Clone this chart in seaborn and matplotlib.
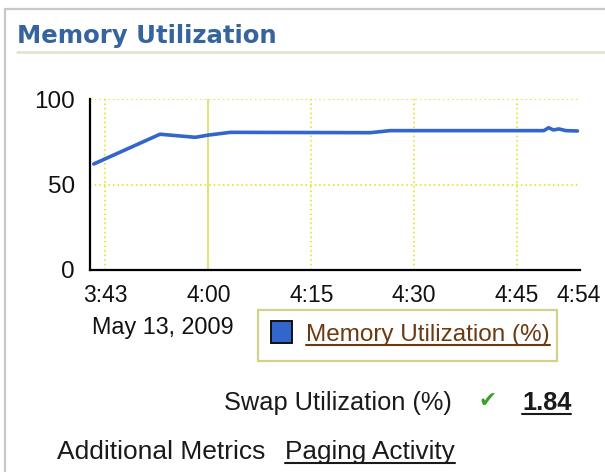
import matplotlib
matplotlib.use("Agg")
import matplotlib.pyplot as plt
from matplotlib.lines import Line2D
from matplotlib.patches import Rectangle
import seaborn as sns
import pandas as pd

# ---- data ----
# minutes after 3:00
minutes = [43.3, 52.95, 58.1, 60.0, 63.2, 83.6, 86.5, 108.9, 109.6, 110.3, 111.1, 112.1, 113.8]
memory_pct = [62.0, 79.4, 77.6, 78.9, 80.5, 80.3, 81.5, 81.5, 83.2, 81.9, 82.5, 81.5, 81.3]
tick_minutes = [45, 60, 75, 90, 105, 114]
tick_labels = ["3:43", "4:00", "4:15", "4:30", "4:45", "4:54"]
y_ticks = [0, 50, 100]
date_label = "May 13, 2009"
series_label = "Memory Utilization (%)"
title = "Memory Utilization"
swap_label = "Swap Utilization (%)"
swap_value = "1.84"
extra_label = "Additional Metrics"
extra_link = "Paging Activity"

W, H = 605, 472
sns.set_style("white")
plt.rcParams["font.family"] = ["Liberation Sans", "DejaVu Sans"]

fig = plt.figure(figsize=(W / 100, H / 100), dpi=100)


def fx(x):
    return x / W


def fy(y):
    return 1 - y / H


# axes placement (pixels)
L, R, T, B = 90, 579.5, 99, 270
ax = fig.add_axes([fx(L), fy(B), (R - L) / W, (B - T) / H])

df = pd.DataFrame({"t": minutes, "v": memory_pct})
sns.lineplot(data=df, x="t", y="v", ax=ax, color="#3366cc", linewidth=2.6, legend=False)

ax.set_xlim(42.75, 114.1)
ax.set_ylim(0, 100)
ax.set_xticks(tick_minutes)
ax.set_xticklabels(tick_labels)
ax.set_yticks(y_ticks)
ax.set_xlabel("")
ax.set_ylabel("")
ax.tick_params(axis="x", direction="in", length=3.5, width=1, color="#777777",
               labelsize=16.5, pad=10, labelcolor="#111111")
ax.tick_params(axis="y", length=0, labelsize=17.5, pad=11, labelcolor="#111111")
for s in ["top", "right"]:
    ax.spines[s].set_visible(False)
for s in ["left", "bottom"]:
    ax.spines[s].set_color("black")
    ax.spines[s].set_linewidth(1.6)

ax.grid(True, color="#e0e000", linestyle=(0, (1, 2)), linewidth=1.1)
xg = ax.get_xgridlines()
xg[-1].set_visible(False)
xg[1].set_linestyle("-")
xg[1].set_color("#dede5a")
xg[1].set_linewidth(1.2)
ax.get_ygridlines()[0].set_visible(False)
ax.set_axisbelow(True)

# ---- frame / header ----
fig.add_artist(Line2D([fx(5), fx(605)], [fy(9), fy(9)], color="#c8c8c8", lw=1.6))
fig.add_artist(Line2D([fx(5), fx(5)], [fy(9), fy(472)], color="#c8c8c8", lw=1.6))
fig.add_artist(Line2D([fx(17), fx(605)], [fy(52), fy(52)], color="#dde3cc", lw=1.8))
fig.text(fx(17), fy(43), title, fontsize=17.6, fontweight="bold", color="#35659c",
         family="DejaVu Sans", va="baseline", ha="left")

# ---- date + legend ----
fig.text(fx(92), fy(334), date_label, fontsize=16.8, color="#111111", va="baseline", ha="left")
fig.add_artist(Rectangle((fx(258), fy(361)), (557 - 258) / W, (361 - 310) / H,
                         transform=fig.transFigure, facecolor="white",
                         edgecolor="#d2d28a", lw=1.6))
fig.add_artist(Rectangle((fx(271), fy(343)), 21 / W, 22 / H, transform=fig.transFigure,
                         facecolor="#3366cc", edgecolor="#111111", lw=1.4))
leg_t = fig.text(fx(306), fy(341), series_label, fontsize=17.5, color="#6b3a10",
                 va="baseline", ha="left")

# ---- bottom metrics ----
swap_t = fig.text(fx(224), fy(410), swap_label, fontsize=18.3, color="#1a1a1a",
                  va="baseline", ha="left")
fig.text(fx(479), fy(407), "\u2714", fontsize=15.5, color="#3aa02a", family="DejaVu Sans",
         va="baseline", ha="left")
val_t = fig.text(fx(522), fy(410), swap_value, fontsize=18.3, fontweight="bold",
                 color="#1a1a1a", va="baseline", ha="left")
fig.text(fx(57), fy(459), extra_label, fontsize=19, color="#1a1a1a", va="baseline", ha="left")
link_t = fig.text(fx(285), fy(459), extra_link, fontsize=18.8, color="#1a1a1a",
                  va="baseline", ha="left")

fig.canvas.draw()
renderer = fig.canvas.get_renderer()
for t, ypx, col in [(leg_t, 345, "#6b3a10"), (val_t, 413.5, "#1a1a1a"), (link_t, 463, "#1a1a1a")]:
    bb = t.get_window_extent(renderer)
    fig.add_artist(Line2D([bb.x0 / W, bb.x1 / W], [fy(ypx), fy(ypx)], color=col, lw=1.5))

fig.savefig("out.png", dpi=100, facecolor="white")
